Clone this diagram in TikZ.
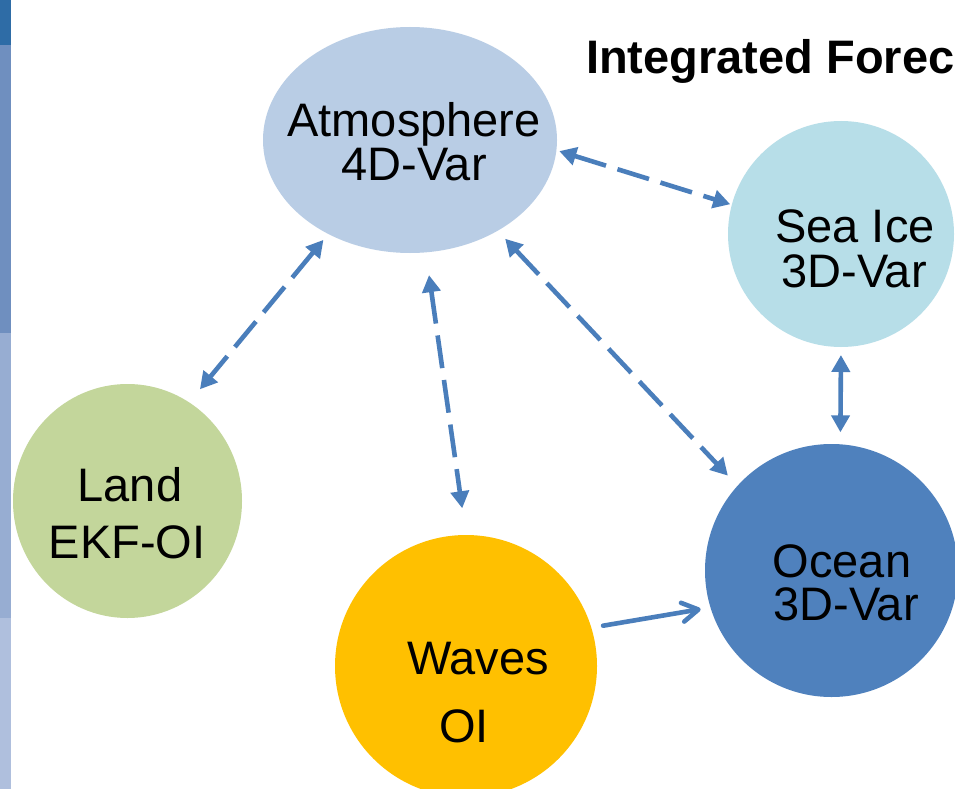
\documentclass[tikz,border=0pt]{standalone}
\usepackage{fontspec}
\setmainfont{Liberation Sans}
\usetikzlibrary{arrows.meta,shapes.geometric}
\definecolor{atmc}{HTML}{B9CDE5}
\definecolor{seac}{HTML}{B7DEE8}
\definecolor{landc}{HTML}{C3D69B}
\definecolor{wavec}{HTML}{FFC000}
\definecolor{oceanc}{HTML}{4F81BD}
\definecolor{arrc}{HTML}{4A7EBB}
\definecolor{stripa}{HTML}{2E6CA6}
\definecolor{stripb}{HTML}{6F8FBF}
\definecolor{stripc}{HTML}{97ADD2}
\definecolor{stripd}{HTML}{AFBFDD}
\begin{document}
\begin{tikzpicture}[x=1pt,y=-1pt,
  blob/.style={ellipse, draw=none, inner sep=0pt, outer sep=0pt},
  lbl/.style={anchor=base, inner sep=0pt, font=\fontsize{47}{47}\selectfont},
  link/.style={draw=arrc, line width=4.6pt},
  dlink/.style={link, dash pattern=on 33pt off 12pt, {Triangle[length=17pt,width=18pt]}-{Triangle[length=17pt,width=18pt]}},
  slink/.style={link, {Triangle[length=17pt,width=18pt]}-{Triangle[length=17pt,width=18pt]}},
  olink/.style={link, line cap=round, -{Straight Barb[length=16pt,width=19pt,round]}}]
\useasboundingbox (0,0) rectangle (955,789);
\clip (0,0) rectangle (955,789);
\fill[white] (0,0) rectangle (955,789);
% left strip
\fill[stripa] (0,0) rectangle (11,45);
\fill[stripb] (0,45) rectangle (11,333);
\fill[stripc] (0,333) rectangle (11,618);
\fill[stripd] (0,618) rectangle (11,789);
% title
\node[anchor=base west, inner sep=0pt, font=\bfseries\fontsize{47}{47}\selectfont] (title) at (586,74) {Integrated Forec};
% nodes
\node[blob, fill=atmc, minimum width=294pt, minimum height=226pt] (atm) at (410,140) {};
\node[blob, fill=seac, minimum width=226pt, minimum height=226pt] (sea) at (841,234) {};
\node[blob, fill=landc, minimum width=229pt, minimum height=234pt] (land) at (127.5,501) {};
\node[blob, fill=wavec, minimum width=262pt, minimum height=262pt] (waves) at (466,666) {};
\node[blob, fill=oceanc, minimum width=253pt, minimum height=253pt] (ocean) at (831.5,570.5) {};
% connectors
\draw[dlink, shorten <=3pt, shorten >=1.7pt] (atm.-4.8) -- (sea.165.4);
\draw[dlink, shorten <=7.7pt, shorten >=17pt] (atm.-131.6) -- (land.58);
\draw[dlink, shorten <=23pt, shorten >=27pt] (atm.-82.4) -- (waves.90.4);
\draw[dlink, shorten <=11pt, shorten >=14pt] (atm.-46.2) -- (ocean.138.8);
\draw[slink, shorten <=8pt, shorten >=12pt] (sea.-90.5) -- (ocean.86.5);
\draw[olink, shorten <=12pt, shorten >=10pt] (waves.17.9) -- (ocean.-163.2);
% labels
\node[lbl, align=center, font=\fontsize{47}{41}\selectfont] (atmA) at (414,180) {Atmosphere\\4D-Var};
\node[lbl] (seaA) at (855,242) {Sea Ice};
\node[lbl] (seaB) at (854,287) {3D-Var};
\node[lbl] (oceanA) at (842,577) {Ocean};
\node[lbl] (oceanB) at (846,620) {3D-Var};
\node[lbl] (wavesA) at (478,674) {Waves};
\node[lbl] (wavesB) at (464,742) {OI};
\node[lbl] (landA) at (130,501) {Land};
\node[lbl] (landB) at (127,558) {EKF-OI};
\end{tikzpicture}
\end{document}
